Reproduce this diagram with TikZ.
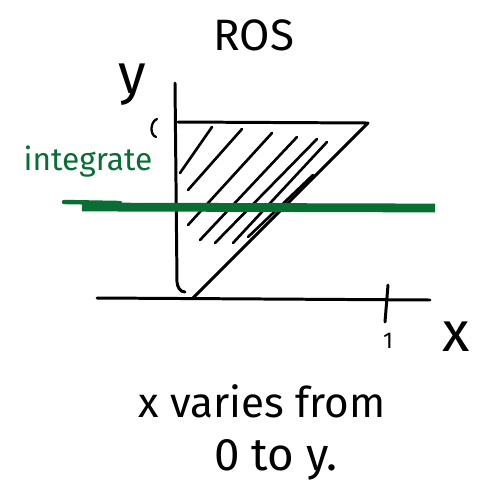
\documentclass[tikz,border=0pt]{standalone}
\usepackage{fontspec}
\setmainfont{Fira Sans}
\usetikzlibrary{positioning}
\definecolor{inkgreen}{RGB}{8,110,52}

\begin{document}
\begin{tikzpicture}[x=0.02cm, y=-0.02cm,
    pen/.style={line width=1.7pt, line cap=round, line join=round},
    hatch/.style={line width=1.5pt, line cap=round},
    marker/.style={draw=inkgreen, line width=5pt},
    hand/.style={inner sep=0pt, font=\fontsize{24}{28}\selectfont}
]
\useasboundingbox (0,0) rectangle (487,498);

\node[hand, font=\fontsize{25}{28}\selectfont] (title) at (254,35) {ROS};

% axes
\coordinate (yTop) at (175,83);
\coordinate (yBot) at (185,292);
\coordinate (xLeft) at (97,298);
\coordinate (xRight) at (430,300);
\draw[pen] (yTop) -- (177,282) to[out=-85,in=180] (yBot);
\draw[pen] (xLeft) -- (xRight);
\coordinate (tickTop) at (388,285);
\coordinate (tickBot) at (385,322);
\draw[pen] (tickTop) -- (tickBot);

\node[hand, font=\fontsize{32}{36}\selectfont] (ylab) at (132,85) {y};
\node[hand, font=\fontsize{32}{36}\selectfont] (xlab) at (456,337) {x};
\node[hand, font=\fontsize{13}{15}\selectfont] (one) at (388,341) {1};

% region
\coordinate (topL) at (178,122);
\coordinate (topR) at (368,123);
\coordinate (botP) at (193,298);
\draw[pen] (topL) -- (topR) -- (botP);

\foreach \xa/\ya/\xb/\yb in {212/127/180/173, 242/129/188/190, 272/133/188/225,
    297/137/200/240, 317/139/215/243, 327/142/233/243, 313/175/248/237}
    \draw[hatch] (\xa,\ya) -- (\xb,\yb);

\draw[line width=1.3pt, line cap=round] (157,119) to[out=200,in=160] (156,137);

% integrate line
\node[hand, text=inkgreen, font=\fontsize{18}{21}\selectfont] (integ) at (88,162) {integrate};
\coordinate (gLeft) at (82,207);
\coordinate (gRight) at (435,208);
\draw[marker] (gLeft) -- (gRight);
\draw[draw=inkgreen, line width=2.5pt, line cap=round] (64,202) -- (120,203);

\node[hand] (line1) at (262,401) {x varies from};
\node[hand, anchor=base, font=\fontsize{26}{30}\selectfont] (line2) at (276,470) {0 to y.};
\end{tikzpicture}
\end{document}
